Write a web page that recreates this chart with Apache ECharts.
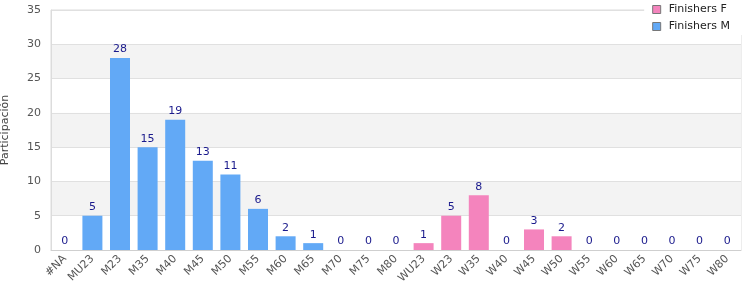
<!DOCTYPE html>
<html>
<head>
<meta charset="utf-8">
<script src="https://cdn.jsdelivr.net/npm/echarts@6/dist/echarts.min.js"></script>
<style>
	html, body { margin: 0; padding: 0; background: #fff; }
	#chart { width: 750px; height: 300px; }
</style>
</head>
<body>
<div id="chart"></div>
<script>
	var categories = ['#NA', 'MU23', 'M23', 'M35', 'M40', 'M45', 'M50', 'M55', 'M60', 'M65', 'M70', 'M75', 'M80',
		'WU23', 'W23', 'W35', 'W40', 'W45', 'W50', 'W55', 'W60', 'W65', 'W70', 'W75', 'W80'];
	var finishersM = [0, 5, 28, 15, 19, 13, 11, 6, 2, 1, 0, 0, 0,
		'-', '-', '-', '-', '-', '-', '-', '-', '-', '-', '-', '-'];
	var finishersF = ['-', '-', '-', '-', '-', '-', '-', '-', '-', '-', '-', '-', '-',
		1, 5, 8, 0, 3, 2, 0, 0, 0, 0, 0, 0];

	var chart = echarts.init(document.getElementById('chart'));
	var labelStyle = {
		show: true,
		position: 'top',
		color: '#1a1a8c',
		fontFamily: 'DejaVu Sans',
		fontSize: 11,
		distance: 3
	};
	var option = {
		animation: false,
		textStyle: { fontFamily: 'DejaVu Sans' },
		legend: {
			orient: 'vertical',
			right: 8,
			top: 1,
			icon: 'rect',
			itemWidth: 8,
			itemHeight: 8,
			itemGap: 6,
			backgroundColor: '#fff',
			padding: [3, 12, 3, 8],
			textStyle: { color: '#222', fontSize: 11, padding: [0, 0, 0, 3] },
			data: ['Finishers F', 'Finishers M']
		},
		grid: {
			left: 51,
			right: 9,
			top: 10,
			bottom: 50,
			outerBoundsMode: 'none',
			show: true,
			borderColor: '#dcdcdc',
			borderWidth: 1
		},
		xAxis: {
			type: 'category',
			data: categories,
			axisLine: { lineStyle: { color: '#cfcfcf' } },
			axisTick: { show: false },
			axisLabel: {
				rotate: 45,
				interval: 0,
				color: '#555',
				fontSize: 11,
				margin: 7
			}
		},
		yAxis: {
			type: 'value',
			min: 0,
			max: 35,
			interval: 5,
			name: 'Participación',
			nameLocation: 'middle',
			nameGap: 40,
			nameTextStyle: { color: '#444', fontSize: 11 },
			axisLine: { show: true, lineStyle: { color: '#dcdcdc' } },
			axisTick: { show: false },
			axisLabel: { color: '#555', fontSize: 11, margin: 10 },
			splitLine: { lineStyle: { color: '#e0e0e0' } },
			splitArea: { show: true, areaStyle: { color: ['#ffffff', '#f3f3f3'] } }
		},
		series: [{
			name: 'Finishers F',
			type: 'bar',
			stack: 'all',
			barWidth: 20,
			itemStyle: { color: '#f484bd' },
			label: labelStyle,
			data: finishersF
		}, {
			name: 'Finishers M',
			type: 'bar',
			stack: 'all',
			barWidth: 20,
			itemStyle: { color: '#62a9f6' },
			label: labelStyle,
			data: finishersM
		}]
	};
	chart.setOption(option);
	// legend squares get a thin grey frame, bars stay borderless
	chart.setOption({
		legend: {
			data: [
				{ name: 'Finishers F', itemStyle: { borderColor: '#777', borderWidth: 1 } },
				{ name: 'Finishers M', itemStyle: { borderColor: '#777', borderWidth: 1 } }
			]
		}
	});
</script>
</body>
</html>
